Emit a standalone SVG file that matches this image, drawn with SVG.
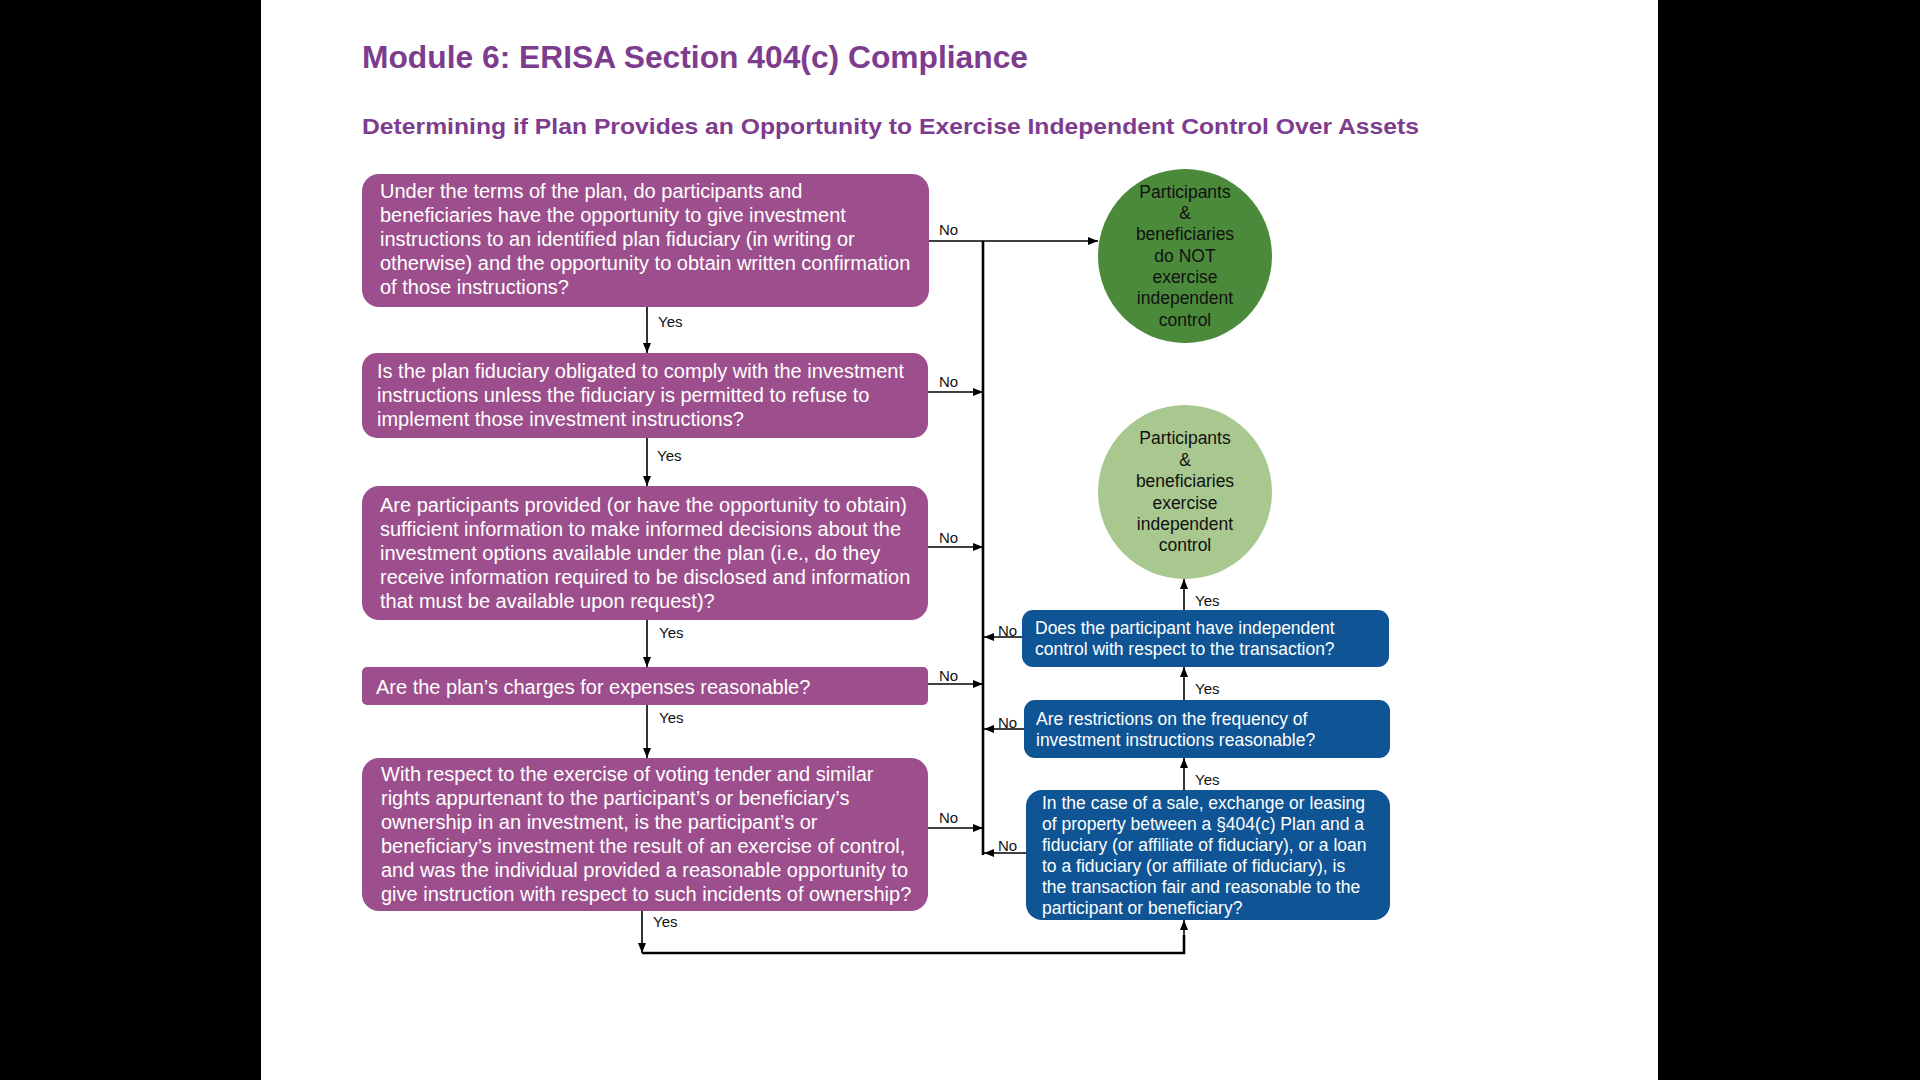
<svg xmlns="http://www.w3.org/2000/svg" width="1920" height="1080" viewBox="0 0 1920 1080">
<style>
.t{font-family:"Liberation Sans",Arial,sans-serif}
.pb{fill:#9d4f8d}
.bb{fill:#0f5595}
.pt{fill:#fff;font-size:20px}
.bt{fill:#fff;font-size:17.5px}
.ct{fill:#111;font-size:17.5px;text-anchor:middle}
.lb{fill:#111;font-size:15px}
.ln{stroke:#000;stroke-width:1.6;fill:none}
.bus{stroke:#000;stroke-width:2.6;fill:none}
.hd{color:#7d3c8e;fill:#7d3c8e;font-weight:bold}
</style>
<defs>
<marker id="ah" markerUnits="userSpaceOnUse" markerWidth="10" markerHeight="8" refX="10" refY="4" orient="auto">
<path d="M0,0 L10,4 L0,8 z" fill="#000"/>
</marker>
</defs>
<rect x="0" y="0" width="1920" height="1080" fill="#000"/>
<rect x="261" y="0" width="1397" height="1080" fill="#fff"/>
<g id="title">
<text class="t hd" x="362" y="68" font-size="31" textLength="666" lengthAdjust="spacingAndGlyphs">Module 6: ERISA Section 404(c) Compliance</text>
<text class="t hd" x="362" y="134" font-size="22" textLength="1057" lengthAdjust="spacingAndGlyphs">Determining if Plan Provides an Opportunity to Exercise Independent Control Over Assets</text>
</g>
<g id="q1">
<rect class="pb" x="362" y="174" width="567" height="133" rx="17"/>
<text class="t pt" x="380"><tspan x="380" y="198">Under the terms of the plan, do participants and</tspan><tspan x="380" y="222">beneficiaries have the opportunity to give investment</tspan><tspan x="380" y="246">instructions to an identified plan fiduciary (in writing or</tspan><tspan x="380" y="270">otherwise) and the opportunity to obtain written confirmation</tspan><tspan x="380" y="294">of those instructions?</tspan></text>
</g>
<g id="q2">
<rect class="pb" x="362" y="353" width="566" height="85" rx="15"/>
<text class="t pt"><tspan x="377" y="378">Is the plan fiduciary obligated to comply with the investment</tspan><tspan x="377" y="402">instructions unless the fiduciary is permitted to refuse to</tspan><tspan x="377" y="426">implement those investment instructions?</tspan></text>
</g>
<g id="q3">
<rect class="pb" x="362" y="486" width="566" height="134" rx="17"/>
<text class="t pt"><tspan x="380" y="512">Are participants provided (or have the opportunity to obtain)</tspan><tspan x="380" y="536">sufficient information to make informed decisions about the</tspan><tspan x="380" y="560">investment options available under the plan (i.e., do they</tspan><tspan x="380" y="584">receive information required to be disclosed and information</tspan><tspan x="380" y="608">that must be available upon request)?</tspan></text>
</g>
<g id="q4">
<rect class="pb" x="362" y="667" width="566" height="38" rx="5"/>
<text class="t pt" x="376" y="694">Are the plan’s charges for expenses reasonable?</text>
</g>
<g id="q5">
<rect class="pb" x="362" y="758" width="566" height="153" rx="17"/>
<text class="t pt"><tspan x="381" y="781">With respect to the exercise of voting tender and similar</tspan><tspan x="381" y="805">rights appurtenant to the participant’s or beneficiary’s</tspan><tspan x="381" y="829">ownership in an investment, is the participant’s or</tspan><tspan x="381" y="853">beneficiary’s investment the result of an exercise of control,</tspan><tspan x="381" y="877">and was the individual provided a reasonable opportunity to</tspan><tspan x="381" y="901">give instruction with respect to such incidents of ownership?</tspan></text>
</g>
<g id="notControl">
<circle cx="1185" cy="256" r="87" fill="#4b8a3a"/>
<text class="t ct"><tspan x="1185" y="198">Participants</tspan><tspan x="1185" y="219">&amp;</tspan><tspan x="1185" y="240">beneficiaries</tspan><tspan x="1185" y="262">do NOT</tspan><tspan x="1185" y="283">exercise</tspan><tspan x="1185" y="304">independent</tspan><tspan x="1185" y="326">control</tspan></text>
</g>
<g id="control">
<circle cx="1185" cy="492" r="87" fill="#a8c890"/>
<text class="t ct"><tspan x="1185" y="444">Participants</tspan><tspan x="1185" y="466">&amp;</tspan><tspan x="1185" y="487">beneficiaries</tspan><tspan x="1185" y="509">exercise</tspan><tspan x="1185" y="530">independent</tspan><tspan x="1185" y="551">control</tspan></text>
</g>
<g id="b1">
<rect class="bb" x="1022" y="610" width="367" height="57" rx="11"/>
<text class="t bt"><tspan x="1035" y="634">Does the participant have independent</tspan><tspan x="1035" y="655">control with respect to the transaction?</tspan></text>
</g>
<g id="b2">
<rect class="bb" x="1024" y="700" width="366" height="58" rx="11"/>
<text class="t bt"><tspan x="1036" y="725">Are restrictions on the frequency of</tspan><tspan x="1036" y="746">investment instructions reasonable?</tspan></text>
</g>
<g id="b3">
<rect class="bb" x="1026" y="790" width="364" height="130" rx="16"/>
<text class="t bt"><tspan x="1042" y="809">In the case of a sale, exchange  or leasing</tspan><tspan x="1042" y="830">of property between a §404(c) Plan and a</tspan><tspan x="1042" y="851">fiduciary (or affiliate of fiduciary), or a loan</tspan><tspan x="1042" y="872">to a fiduciary (or affiliate of fiduciary), is</tspan><tspan x="1042" y="893">the transaction fair and reasonable to the</tspan><tspan x="1042" y="914">participant or beneficiary?</tspan></text>
</g>
<g id="connectors">
<path class="bus" d="M983,241 V855"/>
<path class="ln" d="M929,241 H1098" marker-end="url(#ah)"/>
<path class="ln" d="M928,392 H983" marker-end="url(#ah)"/>
<path class="ln" d="M928,547 H983" marker-end="url(#ah)"/>
<path class="ln" d="M928,684 H983" marker-end="url(#ah)"/>
<path class="ln" d="M928,828 H983" marker-end="url(#ah)"/>
<path class="ln" d="M1022,637 H984" marker-end="url(#ah)"/>
<path class="ln" d="M1024,729 H984" marker-end="url(#ah)"/>
<path class="ln" d="M1026,853 H984" marker-end="url(#ah)"/>
<path class="ln" d="M647,307 V353" marker-end="url(#ah)"/>
<path class="ln" d="M647,438 V486" marker-end="url(#ah)"/>
<path class="ln" d="M647,620 V667" marker-end="url(#ah)"/>
<path class="ln" d="M647,705 V758" marker-end="url(#ah)"/>
<path class="ln" d="M642,911 V953" marker-end="url(#ah)"/>
<path class="bus" d="M642,953 H1184 V935"/>
<path class="ln" d="M1184,936 V920" marker-end="url(#ah)"/>
<path class="ln" d="M1184,790 V758" marker-end="url(#ah)"/>
<path class="ln" d="M1184,700 V667" marker-end="url(#ah)"/>
<path class="ln" d="M1184,610 V579" marker-end="url(#ah)"/>
<text class="t lb" x="939" y="235">No</text>
<text class="t lb" x="939" y="387">No</text>
<text class="t lb" x="939" y="543">No</text>
<text class="t lb" x="939" y="681">No</text>
<text class="t lb" x="939" y="823">No</text>
<text class="t lb" x="998" y="636">No</text>
<text class="t lb" x="998" y="728">No</text>
<text class="t lb" x="998" y="851">No</text>
<text class="t lb" x="658" y="327">Yes</text>
<text class="t lb" x="657" y="461">Yes</text>
<text class="t lb" x="659" y="638">Yes</text>
<text class="t lb" x="659" y="723">Yes</text>
<text class="t lb" x="653" y="927">Yes</text>
<text class="t lb" x="1195" y="606">Yes</text>
<text class="t lb" x="1195" y="694">Yes</text>
<text class="t lb" x="1195" y="785">Yes</text>
</g>
</svg>
